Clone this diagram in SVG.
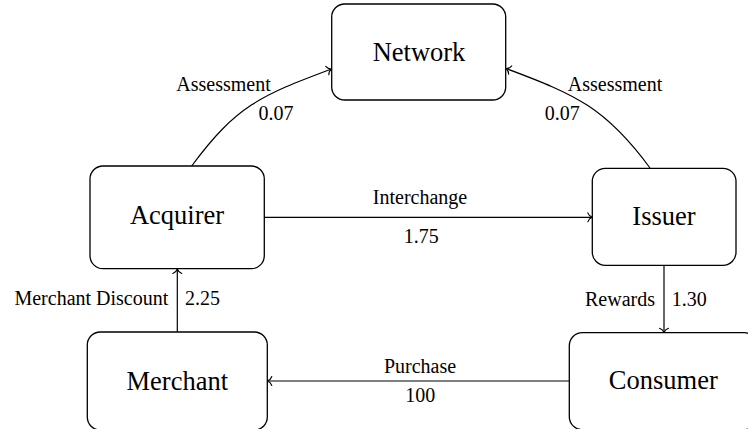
<svg xmlns="http://www.w3.org/2000/svg" width="748" height="429" viewBox="0 0 748 429">
  <defs>
    <style>
      .node rect { fill: #ffffff; stroke: #000000; stroke-width: 1.3; }
      .node text { font-size: 26.5px; text-anchor: middle; fill: #000000; }
      .edge { fill: none; stroke: #000000; stroke-width: 1.2; marker-end: url(#to); }
      .lbl { font-size: 20px; fill: #000000; }
      .mid { text-anchor: middle; }
      .end { text-anchor: end; }
    </style>
    <!-- curved open arrow tip -->
    <marker id="to" markerUnits="userSpaceOnUse" markerWidth="14" markerHeight="14" viewBox="-8 -7 10 14" refX="0" refY="0" orient="auto">
      <path d="M-4.5,-4.5 C-3.6,-1.8 -1.2,-0.4 0,0 C-1.2,0.4 -3.6,1.8 -4.5,4.5" fill="none" stroke="#000000" stroke-width="1.1" stroke-linecap="round"/>
    </marker>
  </defs>

  <!-- connectors -->
  <g id="connectors" font-family="'Liberation Serif', 'Times New Roman', serif">
    <path class="edge" d="M191.7,166 C235.9,106 261,95.3 331.5,69"/>
    <path class="edge" d="M650,168 C605.8,108 576.5,94.8 506,68.5"/>
    <path class="edge" d="M264.3,217.3 L592.3,217.3"/>
    <path class="edge" d="M177.3,332 L177.3,269"/>
    <path class="edge" d="M664,265.3 L664,332.7"/>
    <path class="edge" d="M569.3,381 L267.3,381"/>

    <text class="lbl mid" x="223.5" y="91">Assessment</text>
    <text class="lbl mid" x="276" y="119.5">0.07</text>
    <text class="lbl mid" x="615" y="91">Assessment</text>
    <text class="lbl mid" x="562.3" y="119.5">0.07</text>
    <text class="lbl mid" x="420" y="204">Interchange</text>
    <text class="lbl mid" x="421.3" y="243">1.75</text>
    <text class="lbl end" x="168.3" y="305">Merchant Discount</text>
    <text class="lbl" x="185" y="305">2.25</text>
    <text class="lbl end" x="655" y="305.7">Rewards</text>
    <text class="lbl" x="671.7" y="305.7">1.30</text>
    <text class="lbl mid" x="420" y="372.7">Purchase</text>
    <text class="lbl mid" x="420.3" y="401.7">100</text>
  </g>

  <g id="network" class="node" font-family="'Liberation Serif', 'Times New Roman', serif">
    <rect x="331.7" y="4" width="174" height="96" rx="13"/>
    <text x="419" y="61">Network</text>
  </g>
  <g id="acquirer" class="node" font-family="'Liberation Serif', 'Times New Roman', serif">
    <rect x="90" y="166" width="174.3" height="102.7" rx="13"/>
    <text x="177" y="224">Acquirer</text>
  </g>
  <g id="issuer" class="node" font-family="'Liberation Serif', 'Times New Roman', serif">
    <rect x="592.3" y="168.3" width="143.7" height="97" rx="13"/>
    <text x="664" y="225">Issuer</text>
  </g>
  <g id="merchant" class="node" font-family="'Liberation Serif', 'Times New Roman', serif">
    <rect x="87.3" y="332" width="180" height="98" rx="13"/>
    <text x="177.3" y="390">Merchant</text>
  </g>
  <g id="consumer" class="node" font-family="'Liberation Serif', 'Times New Roman', serif">
    <rect x="569.3" y="332.7" width="188" height="97" rx="13"/>
    <text x="663.3" y="389">Consumer</text>
  </g>
</svg>
